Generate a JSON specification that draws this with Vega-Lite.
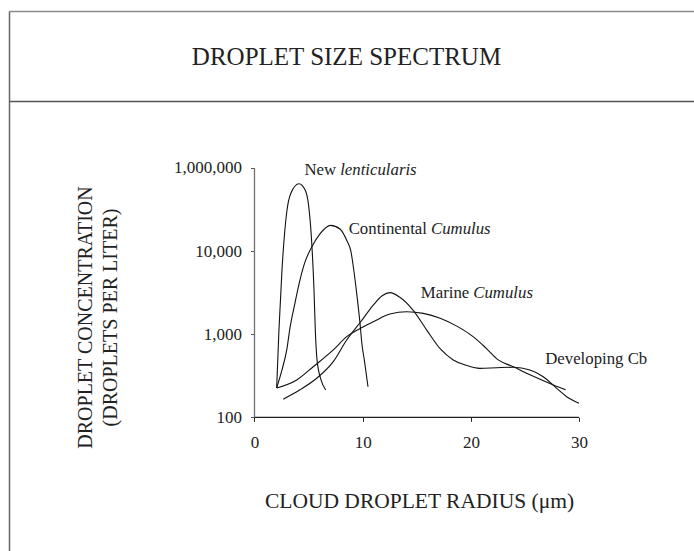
{
  "$schema": "https://vega.github.io/schema/vega-lite/v6.json",
  "width": 694,
  "height": 551,
  "autosize": {"type": "fit", "contains": "padding"},
  "padding": {"left": 9, "top": 11, "right": 0, "bottom": 0},
  "background": "white",
  "config": {"view": {"stroke": null}, "font": "Liberation Serif"},
  "title": {"text": "DROPLET SIZE SPECTRUM", "orient": "top", "frame": "group", "anchor": "middle", "baseline": "middle", "offset": -71, "fontSize": 25, "fontWeight": "normal", "font": "Liberation Serif", "color": "#222", "dx": -5},
  "datasets": {
    "curves": [
      {"s": "New lenticularis", "r": 2.05, "n": 225},
      {"s": "New lenticularis", "r": 2.26, "n": 1120},
      {"s": "New lenticularis", "r": 2.54, "n": 5900},
      {"s": "New lenticularis", "r": 2.98, "n": 29500},
      {"s": "New lenticularis", "r": 3.37, "n": 50000},
      {"s": "New lenticularis", "r": 4.11, "n": 64500},
      {"s": "New lenticularis", "r": 4.67, "n": 54700},
      {"s": "New lenticularis", "r": 4.97, "n": 38000},
      {"s": "New lenticularis", "r": 5.29, "n": 12600},
      {"s": "New lenticularis", "r": 5.5, "n": 3400},
      {"s": "New lenticularis", "r": 5.62, "n": 1120},
      {"s": "New lenticularis", "r": 5.78, "n": 490},
      {"s": "New lenticularis", "r": 6.15, "n": 282},
      {"s": "New lenticularis", "r": 6.58, "n": 213},
      {"s": "Continental Cumulus", "r": 2.05, "n": 225},
      {"s": "Continental Cumulus", "r": 2.54, "n": 371},
      {"s": "Continental Cumulus", "r": 2.98, "n": 646},
      {"s": "Continental Cumulus", "r": 3.28, "n": 1190},
      {"s": "Continental Cumulus", "r": 3.74, "n": 2370},
      {"s": "Continental Cumulus", "r": 4.2, "n": 4470},
      {"s": "Continental Cumulus", "r": 4.67, "n": 7400},
      {"s": "Continental Cumulus", "r": 5.29, "n": 11200},
      {"s": "Continental Cumulus", "r": 6.05, "n": 16100},
      {"s": "Continental Cumulus", "r": 7.04, "n": 20400},
      {"s": "Continental Cumulus", "r": 7.9, "n": 18450},
      {"s": "Continental Cumulus", "r": 8.52, "n": 13500},
      {"s": "Continental Cumulus", "r": 8.92, "n": 9800},
      {"s": "Continental Cumulus", "r": 9.2, "n": 5600},
      {"s": "Continental Cumulus", "r": 9.5, "n": 2700},
      {"s": "Continental Cumulus", "r": 9.75, "n": 1360},
      {"s": "Continental Cumulus", "r": 9.94, "n": 740},
      {"s": "Continental Cumulus", "r": 10.15, "n": 490},
      {"s": "Continental Cumulus", "r": 10.49, "n": 233},
      {"s": "Marine Cumulus", "r": 2.66, "n": 165},
      {"s": "Marine Cumulus", "r": 4.2, "n": 214},
      {"s": "Marine Cumulus", "r": 5.75, "n": 295},
      {"s": "Marine Cumulus", "r": 7.28, "n": 467},
      {"s": "Marine Cumulus", "r": 8.52, "n": 850},
      {"s": "Marine Cumulus", "r": 9.8, "n": 1400},
      {"s": "Marine Cumulus", "r": 10.98, "n": 2240},
      {"s": "Marine Cumulus", "r": 11.8, "n": 2900},
      {"s": "Marine Cumulus", "r": 12.52, "n": 3160},
      {"s": "Marine Cumulus", "r": 13.4, "n": 2800},
      {"s": "Marine Cumulus", "r": 14.65, "n": 1950},
      {"s": "Marine Cumulus", "r": 15.92, "n": 1120},
      {"s": "Marine Cumulus", "r": 17.2, "n": 660},
      {"s": "Marine Cumulus", "r": 18.37, "n": 490},
      {"s": "Marine Cumulus", "r": 19.45, "n": 427},
      {"s": "Marine Cumulus", "r": 20.84, "n": 388},
      {"s": "Marine Cumulus", "r": 22.4, "n": 395},
      {"s": "Marine Cumulus", "r": 23.92, "n": 400},
      {"s": "Marine Cumulus", "r": 25.46, "n": 370},
      {"s": "Marine Cumulus", "r": 26.69, "n": 308},
      {"s": "Marine Cumulus", "r": 27.93, "n": 223},
      {"s": "Marine Cumulus", "r": 28.85, "n": 177},
      {"s": "Marine Cumulus", "r": 29.99, "n": 148},
      {"s": "Developing Cb", "r": 2.05, "n": 225},
      {"s": "Developing Cb", "r": 3.9, "n": 281},
      {"s": "Developing Cb", "r": 5.43, "n": 406},
      {"s": "Developing Cb", "r": 7.28, "n": 646},
      {"s": "Developing Cb", "r": 8.52, "n": 934},
      {"s": "Developing Cb", "r": 9.8, "n": 1180},
      {"s": "Developing Cb", "r": 10.98, "n": 1410},
      {"s": "Developing Cb", "r": 12.52, "n": 1750},
      {"s": "Developing Cb", "r": 14.07, "n": 1860},
      {"s": "Developing Cb", "r": 15.6, "n": 1780},
      {"s": "Developing Cb", "r": 17.1, "n": 1570},
      {"s": "Developing Cb", "r": 18.7, "n": 1250},
      {"s": "Developing Cb", "r": 20.2, "n": 934},
      {"s": "Developing Cb", "r": 21.4, "n": 680},
      {"s": "Developing Cb", "r": 22.53, "n": 490},
      {"s": "Developing Cb", "r": 23.92, "n": 406},
      {"s": "Developing Cb", "r": 25.46, "n": 324},
      {"s": "Developing Cb", "r": 27.62, "n": 245},
      {"s": "Developing Cb", "r": 28.76, "n": 215}
    ],
    "labels": [
      {"plain": "New", "ital": "lenticularis", "lx": 7.55, "ly": 94600},
      {"plain": "Continental", "ital": "Cumulus", "lx": 15.94, "ly": 18450},
      {"plain": "Marine", "ital": "Cumulus", "lx": 19.85, "ly": 3155},
      {"plain": "Developing Cb", "ital": "", "lx": 36.3, "ly": 502}
    ],
    "axislines": [
      {"k": "x", "x": 0, "x2": 30, "y": 100, "y2": 100},
      {"k": "y", "x": 0, "x2": 0, "y": 100, "y2": 100000}
    ],
    "frame": [{"f": 0}]
  },
  "layer": [
    {
      "layer": [
        {
          "data": {"name": "curves"},
          "mark": {"type": "line", "interpolate": "monotone", "color": "#111", "strokeWidth": 1.1},
          "encoding": {
            "x": {
              "field": "r", "type": "quantitative",
              "scale": {"domain": [-22.689, 40.62], "nice": false, "zero": false},
              "axis": {
                "orient": "bottom", "offset": -133.7, "values": [0, 10, 20, 30],
                "domain": false, "grid": false, "tickSize": 4, "tickColor": "#222", "tickWidth": 1,
                "labelFont": "Liberation Serif", "labelFontSize": 17, "labelColor": "#222",
                "labelPadding": 21, "labelBaseline": "middle", "labelFlush": false, "labelOverlap": false,
                "title": "CLOUD DROPLET RADIUS (μm)", "titleFont": "Liberation Serif", "titleFontSize": 21.5,
                "titleFontWeight": "normal", "titleColor": "#222", "titleX": 410, "titleY": 90,
                "titleBaseline": "alphabetic", "titleAlign": "center"
              }
            },
            "y": {
              "field": "n", "type": "quantitative",
              "scale": {"type": "log", "domain": [2.46, 7745000], "nice": false, "zero": false},
              "axis": {
                "orient": "left", "offset": -245.5, "values": [100, 1000, 10000, 100000],
                "labelExpr": "datum.value >= 100000 ? '1,000,000' : format(datum.value, ',')",
                "domain": false, "grid": false, "tickSize": 4, "tickColor": "#555", "tickWidth": 1,
                "labelFont": "Liberation Serif", "labelFontSize": 17, "labelColor": "#222",
                "labelPadding": 9, "labelBaseline": "middle",
                "title": ["DROPLET CONCENTRATION", "(DROPLETS PER LITER)"],
                "titleFont": "Liberation Serif", "titleFontSize": 20, "titleFontWeight": "normal",
                "titleColor": "#222", "titleAngle": -90, "titleX": -169.5, "titleY": 306,
                "titleAlign": "center", "titleBaseline": "middle", "titleLineHeight": 25
              }
            },
            "detail": {"field": "s"}
          }
        },
        {
          "data": {"name": "axislines"},
          "mark": {"type": "rule", "strokeWidth": 1.3},
          "encoding": {
            "x": {"field": "x", "type": "quantitative"},
            "x2": {"field": "x2"},
            "y": {"field": "y", "type": "quantitative"},
            "y2": {"field": "y2"},
            "color": {"field": "k", "type": "nominal", "scale": {"domain": ["x", "y"], "range": ["#222", "#707070"]}, "legend": null}
          }
        },
        {
          "data": {"name": "labels"},
          "mark": {"type": "text", "align": "right", "baseline": "middle", "font": "Liberation Serif", "fontSize": 16.8, "color": "#222"},
          "encoding": {
            "x": {"field": "lx", "type": "quantitative"},
            "y": {"field": "ly", "type": "quantitative"},
            "text": {"field": "plain"}
          }
        },
        {
          "data": {"name": "labels"},
          "mark": {"type": "text", "align": "left", "baseline": "middle", "dx": 4, "font": "Liberation Serif", "fontStyle": "italic", "fontSize": 16.8, "color": "#222"},
          "encoding": {
            "x": {"field": "lx", "type": "quantitative"},
            "y": {"field": "ly", "type": "quantitative"},
            "text": {"field": "ital"}
          }
        }
      ]
    },
    {
      "data": {"name": "frame"},
      "mark": {"type": "point", "opacity": 0, "size": 0},
      "encoding": {
        "x": {"field": "f", "type": "quantitative", "scale": {"domain": [0, 1]},
          "axis": {"orient": "top", "offset": 0, "domain": true, "domainColor": "#8a8a8a", "domainWidth": 1.5, "ticks": false, "labels": false, "grid": false, "title": null}},
        "y": {"field": "f", "type": "quantitative", "scale": {"domain": [0, 1]},
          "axis": {"orient": "left", "offset": 0, "domain": true, "domainColor": "#666", "domainWidth": 1.5, "ticks": false, "labels": false, "grid": false, "title": null}}
      }
    },
    {
      "data": {"name": "frame"},
      "mark": {"type": "point", "opacity": 0, "size": 0},
      "encoding": {
        "x": {"field": "f", "type": "quantitative", "scale": {"domain": [0, 1]},
          "axis": {"orient": "top", "offset": -90, "domain": true, "domainColor": "#555", "domainWidth": 1.5, "ticks": false, "labels": false, "grid": false, "title": null}}
      }
    }
  ],
  "resolve": {"scale": {"x": "independent", "y": "independent"}}
}
